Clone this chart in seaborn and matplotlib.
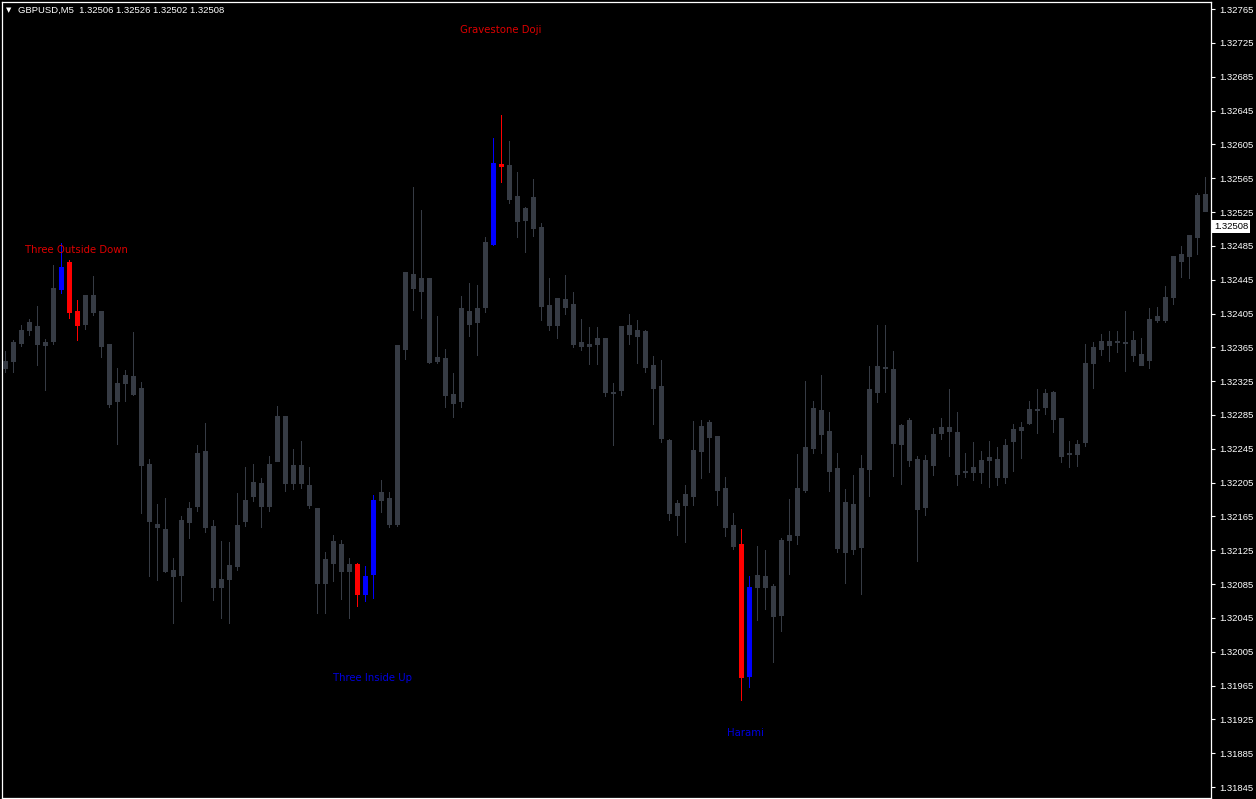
import numpy as np
import pandas as pd
import matplotlib
matplotlib.use("Agg")
import matplotlib.pyplot as plt
import matplotlib.transforms as mtransforms
import seaborn as sns

# ---------------- data (GBPUSD M5) ----------------
opens = [1.32340, 1.32349, 1.32370, 1.32386, 1.32390, 1.32368, 1.32372, 1.32434, 1.32466, 1.32408,
         1.32392, 1.32427, 1.32408, 1.32369, 1.32302, 1.32323, 1.32331, 1.32317, 1.32227, 1.32156,
         1.32150, 1.32102, 1.32096, 1.32159, 1.32177, 1.32242, 1.32154, 1.32081, 1.32091, 1.32106,
         1.32160, 1.32189, 1.32205, 1.32177, 1.32231, 1.32284, 1.32204, 1.32226, 1.32202, 1.32175,
         1.32086, 1.32110, 1.32132, 1.32100, 1.32109, 1.32073, 1.32097, 1.32184, 1.32187, 1.32156,
         1.32363, 1.32452, 1.32447, 1.32447, 1.32349, 1.32352, 1.32310, 1.32301, 1.32408, 1.32395,
         1.32413, 1.32487, 1.32581, 1.32581, 1.32544, 1.32515, 1.32543, 1.32507, 1.32415, 1.32391,
         1.32422, 1.32416, 1.32371, 1.32369, 1.32369, 1.32376, 1.32312, 1.32315, 1.32381, 1.32385,
         1.32384, 1.32344, 1.32319, 1.32255, 1.32167, 1.32179, 1.32189, 1.32242, 1.32277, 1.32260,
         1.32199, 1.32155, 1.32132, 1.31976, 1.32082, 1.32095, 1.32083, 1.32048, 1.32137, 1.32143,
         1.32196, 1.32246, 1.32291, 1.32266, 1.32222, 1.32123, 1.32180, 1.32129, 1.32221, 1.32312,
         1.32342, 1.32339, 1.32251, 1.32279, 1.32233, 1.32176, 1.32226, 1.32264, 1.32271, 1.32265,
         1.32218, 1.32217, 1.32217, 1.32232, 1.32233, 1.32212, 1.32254, 1.32267, 1.32275, 1.32292,
         1.32294, 1.32312, 1.32281, 1.32239, 1.32239, 1.32253, 1.32347, 1.32363, 1.32368, 1.32372,
         1.32371, 1.32374, 1.32357, 1.32350, 1.32397, 1.32397, 1.32424, 1.32467, 1.32473, 1.32495,
         1.32546]
highs = [1.32361, 1.32374, 1.32391, 1.32398, 1.32414, 1.32375, 1.32462, 1.32488, 1.32468, 1.32421,
         1.32427, 1.32449, 1.32408, 1.32369, 1.32340, 1.32338, 1.32383, 1.32324, 1.32233, 1.32180,
         1.32187, 1.32116, 1.32165, 1.32182, 1.32249, 1.32276, 1.32161, 1.32136, 1.32135, 1.32193,
         1.32223, 1.32227, 1.32210, 1.32236, 1.32296, 1.32284, 1.32245, 1.32254, 1.32223, 1.32175,
         1.32123, 1.32143, 1.32137, 1.32116, 1.32110, 1.32106, 1.32190, 1.32208, 1.32194, 1.32368,
         1.32454, 1.32555, 1.32527, 1.32447, 1.32402, 1.32363, 1.32335, 1.32426, 1.32441, 1.32439,
         1.32496, 1.32612, 1.32640, 1.32609, 1.32572, 1.32531, 1.32564, 1.32512, 1.32447, 1.32423,
         1.32450, 1.32430, 1.32398, 1.32389, 1.32389, 1.32376, 1.32323, 1.32390, 1.32404, 1.32397,
         1.32386, 1.32355, 1.32350, 1.32256, 1.32184, 1.32202, 1.32278, 1.32279, 1.32279, 1.32260,
         1.32212, 1.32169, 1.32150, 1.32095, 1.32130, 1.32125, 1.32085, 1.32139, 1.32186, 1.32239,
         1.32325, 1.32301, 1.32332, 1.32288, 1.32240, 1.32197, 1.32214, 1.32238, 1.32343, 1.32391,
         1.32391, 1.32361, 1.32274, 1.32281, 1.32236, 1.32238, 1.32270, 1.32281, 1.32316, 1.32288,
         1.32240, 1.32253, 1.32242, 1.32254, 1.32247, 1.32257, 1.32274, 1.32277, 1.32301, 1.32316,
         1.32316, 1.32313, 1.32281, 1.32254, 1.32255, 1.32369, 1.32371, 1.32381, 1.32384, 1.32384,
         1.32408, 1.32384, 1.32376, 1.32411, 1.32413, 1.32437, 1.32473, 1.32485, 1.32498, 1.32547,
         1.32566]
lows = [1.32336, 1.32336, 1.32366, 1.32380, 1.32344, 1.32315, 1.32369, 1.32429, 1.32400, 1.32374,
        1.32387, 1.32403, 1.32353, 1.32295, 1.32251, 1.32301, 1.32309, 1.32169, 1.32094, 1.32090,
        1.32099, 1.32039, 1.32065, 1.32139, 1.32171, 1.32147, 1.32066, 1.32045, 1.32039, 1.32102,
        1.32154, 1.32183, 1.32153, 1.32171, 1.32231, 1.32195, 1.32197, 1.32199, 1.32175, 1.32051,
        1.32051, 1.32089, 1.32067, 1.32045, 1.32059, 1.32065, 1.32069, 1.32170, 1.32153, 1.32154,
        1.32351, 1.32409, 1.32400, 1.32347, 1.32346, 1.32295, 1.32283, 1.32295, 1.32378, 1.32356,
        1.32407, 1.32486, 1.32560, 1.32536, 1.32496, 1.32478, 1.32497, 1.32397, 1.32385, 1.32376,
        1.32405, 1.32365, 1.32362, 1.32345, 1.32345, 1.32307, 1.32249, 1.32309, 1.32369, 1.32347,
        1.32336, 1.32274, 1.32253, 1.32161, 1.32143, 1.32135, 1.32179, 1.32210, 1.32217, 1.32179,
        1.32142, 1.32126, 1.31948, 1.31963, 1.32043, 1.32056, 1.31993, 1.32030, 1.32097, 1.32132,
        1.32194, 1.32240, 1.32240, 1.32195, 1.32123, 1.32086, 1.32121, 1.32073, 1.32189, 1.32300,
        1.32312, 1.32213, 1.32203, 1.32225, 1.32112, 1.32167, 1.32214, 1.32256, 1.32236, 1.32202,
        1.32212, 1.32208, 1.32204, 1.32200, 1.32202, 1.32205, 1.32219, 1.32234, 1.32274, 1.32264,
        1.32286, 1.32265, 1.32229, 1.32223, 1.32225, 1.32248, 1.32317, 1.32356, 1.32349, 1.32359,
        1.32337, 1.32349, 1.32344, 1.32340, 1.32395, 1.32395, 1.32416, 1.32448, 1.32447, 1.32475,
        1.32526]
closes = [1.32349, 1.32371, 1.32385, 1.32395, 1.32369, 1.32371, 1.32435, 1.32460, 1.32407, 1.32391,
          1.32427, 1.32407, 1.32367, 1.32298, 1.32323, 1.32332, 1.32310, 1.32226, 1.32160, 1.32152,
          1.32100, 1.32094, 1.32161, 1.32175, 1.32240, 1.32152, 1.32081, 1.32091, 1.32108, 1.32155,
          1.32184, 1.32206, 1.32177, 1.32227, 1.32284, 1.32204, 1.32226, 1.32204, 1.32179, 1.32086,
          1.32115, 1.32136, 1.32100, 1.32109, 1.32073, 1.32095, 1.32184, 1.32194, 1.32156, 1.32368,
          1.32454, 1.32435, 1.32432, 1.32348, 1.32353, 1.32309, 1.32299, 1.32411, 1.32393, 1.32411,
          1.32490, 1.32583, 1.32580, 1.32540, 1.32514, 1.32530, 1.32506, 1.32414, 1.32391, 1.32423,
          1.32413, 1.32369, 1.32367, 1.32367, 1.32376, 1.32312, 1.32311, 1.32390, 1.32391, 1.32378,
          1.32342, 1.32317, 1.32258, 1.32169, 1.32181, 1.32191, 1.32244, 1.32272, 1.32259, 1.32196,
          1.32152, 1.32130, 1.31975, 1.32082, 1.32096, 1.32082, 1.32047, 1.32137, 1.32143, 1.32199,
          1.32247, 1.32293, 1.32262, 1.32219, 1.32128, 1.32182, 1.32126, 1.32222, 1.32316, 1.32343,
          1.32341, 1.32252, 1.32273, 1.32232, 1.32174, 1.32232, 1.32262, 1.32271, 1.32266, 1.32215,
          1.32219, 1.32223, 1.32232, 1.32235, 1.32212, 1.32249, 1.32268, 1.32271, 1.32292, 1.32291,
          1.32311, 1.32280, 1.32236, 1.32240, 1.32251, 1.32347, 1.32365, 1.32372, 1.32372, 1.32371,
          1.32370, 1.32356, 1.32344, 1.32398, 1.32402, 1.32424, 1.32473, 1.32475, 1.32498, 1.32545,
          1.32526]

# candles belonging to detected patterns
bull_pattern_candles = [7, 45, 46, 61, 93]
bear_pattern_candles = [8, 9, 44, 62, 92]

pattern_names = ["Three Outside Down", "Three Inside Up", "Gravestone Doji", "Harami"]
pattern_candle = [9, 46, 62, 92.6]
pattern_price = [1.32480, 1.31974, 1.32740, 1.31909]
pattern_kind = ["bear", "bull", "bear", "bull"]

tick_values = [1.31845, 1.31885, 1.31925, 1.31965, 1.32005, 1.32045, 1.32085, 1.32125,
               1.32165, 1.32205, 1.32245, 1.32285, 1.32325, 1.32365, 1.32405, 1.32445,
               1.32485, 1.32525, 1.32565, 1.32605, 1.32645, 1.32685, 1.32725, 1.32765]
tick_labels = ["1.31845", "1.31885", "1.31925", "1.31965", "1.32005", "1.32045", "1.32085", "1.32125",
               "1.32165", "1.32205", "1.32245", "1.32285", "1.32325", "1.32365", "1.32405", "1.32445",
               "1.32485", "1.32525", "1.32565", "1.32605", "1.32645", "1.32685", "1.32725", "1.32765"]

symbol = "GBPUSD,M5"
last_quote = ["1.32506", "1.32526", "1.32502", "1.32508"]
bid_price = 1.32508

# ---------------- style ----------------
GRAY = "#363b44"
RED = "#ff0000"
BLUE = "#0000ff"
LABEL_RED = "#dd0000"
LABEL_BLUE = "#0000dd"

sns.set_theme(style="dark", rc={
    "axes.facecolor": "black",
    "figure.facecolor": "black",
    "axes.edgecolor": "white",
    "axes.grid": False,
    "patch.force_edgecolor": False,
})
plt.rcParams["font.family"] = ["DejaVu Sans"]

W, H = 1256, 799
DPI = 100
PX = 72.0 / DPI  # one pixel in points

fig = plt.figure(figsize=(W / DPI, H / DPI), dpi=DPI)
ax = fig.add_axes([1.5 / W, 1.0 / H, (1211 - 1.5) / W, 796.5 / H])

df = pd.DataFrame({"open": opens, "high": highs, "low": lows, "close": closes})
df["idx"] = np.arange(len(df))
df["color"] = GRAY
df.loc[bull_pattern_candles, "color"] = BLUE
df.loc[bear_pattern_candles, "color"] = RED
df["lo"] = df[["open", "close"]].min(axis=1)
df["hi"] = df[["open", "close"]].max(axis=1)
min_h = 0.0000125  # about one pixel, so dojis remain visible
df["hi2"] = np.maximum(df["hi"], df["lo"] + min_h)

# wicks (1 px)
wicks = ax.vlines(df["idx"], df["low"], df["high"], colors=df["color"],
                  linewidth=1.0 * PX, antialiased=False, zorder=2)
wicks.set_capstyle("butt")
# bodies (5 px wide)
bodies = ax.vlines(df["idx"], df["lo"], df["hi2"], colors=df["color"],
                   linewidth=5.0 * PX, antialiased=False, zorder=3)
bodies.set_capstyle("butt")

# pattern labels
for name, xi, yp, kind in zip(pattern_names, pattern_candle, pattern_price, pattern_kind):
    ax.text(xi, yp, name, ha="center", va="center", fontsize=7.3,
            color=LABEL_RED if kind == "bear" else LABEL_BLUE,
            family="DejaVu Sans", zorder=5)

# axes limits
ax.set_xlim(-0.375, (1211 - 4.5) / 8)
ax.set_ylim(1.31832, 1.32774)

ax.set_xticks([])
ax.yaxis.tick_right()
ax.set_yticks(tick_values)
ax.set_yticklabels(tick_labels)
ax.tick_params(axis="y", colors="white", labelcolor="white", length=3, width=0.8,
               labelsize=6.8, pad=3, direction="out")
for lab in ax.get_yticklabels():
    lab.set_family("Liberation Sans")
for sp in ax.spines.values():
    sp.set_color("white")
    sp.set_linewidth(0.9)
    sp.set_visible(True)

# current price box
trans = mtransforms.blended_transform_factory(ax.transAxes, ax.transData)
ax.text(1.0 + 3.0 / 1209.5, bid_price, last_quote[3], transform=trans,
        ha="left", va="center", fontsize=6.8, color="black", family="Liberation Sans",
        bbox=dict(boxstyle="square,pad=0.18", fc="white", ec="none"), zorder=6, clip_on=False)

# header
fig.text(6 / W, 1 - 10 / H, "\u25BC", fontsize=5, color="white", ha="left", va="center",
         family="DejaVu Sans")
fig.text(18 / W, 1 - 10 / H, symbol + "  " + " ".join(last_quote), fontsize=6.8,
         color="white", ha="left", va="center", family="Liberation Sans")

fig.savefig("out.png", dpi=DPI, facecolor="black")
